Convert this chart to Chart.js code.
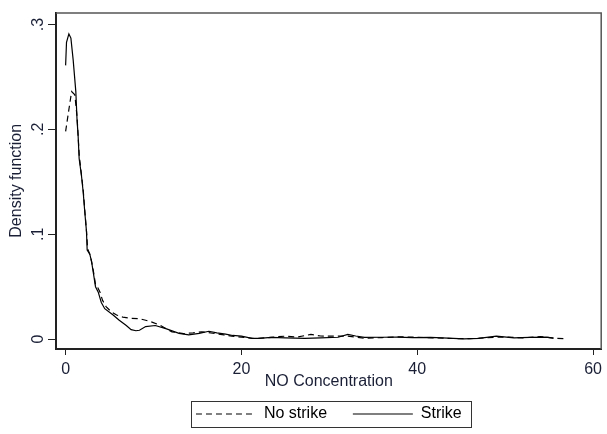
<!DOCTYPE html>
<html><head><meta charset="utf-8">
<script src="https://cdn.jsdelivr.net/npm/chart.js@4.4.1/dist/chart.umd.min.js"></script>
<style>html,body{margin:0;padding:0;background:#fff}#wrap{width:607px;height:434px}</style>
</head><body><div id="wrap"><canvas id="c" width="607" height="434"></canvas></div>
<script>
const seriesLabels = ['No strike', 'Strike'];
const xTicks = [0, 20, 40, 60];
const yTicks = [0, 0.1, 0.2, 0.3];
const xTitle = 'NO Concentration';
const yTitle = 'Density function';

const noStrikeX = [0, 0.3, 0.68, 1.05, 1.3, 1.55, 2.0, 2.4, 2.5, 2.8, 3.1, 3.4, 3.6, 3.9, 4.2, 4.6, 5.2, 5.8, 6.5, 7.25, 8.4, 9.1, 9.9, 10.8, 11.4, 12.1, 13.4, 14.5, 15.5, 17.0, 18.0, 18.9, 20.3, 21.5, 23.0, 24.9, 26.4, 27.9, 29.0, 30.2, 32.0, 34.0, 36.0, 38.0, 40.0, 42.0, 44.0, 46.0, 48.0, 50.0, 52.0, 54.0, 55.5, 57.0];
const noStrikeY = [0.198, 0.215, 0.236, 0.233, 0.212, 0.175, 0.142, 0.100, 0.086, 0.080, 0.068, 0.052, 0.050, 0.045, 0.037, 0.031, 0.026, 0.023, 0.021, 0.020, 0.0195, 0.018, 0.016, 0.013, 0.010, 0.007, 0.0053, 0.006, 0.007, 0.0053, 0.004, 0.0028, 0.0016, 0.0006, 0.0015, 0.0028, 0.002, 0.0045, 0.003, 0.0028, 0.003, 0.0008, 0.0015, 0.0022, 0.0018, 0.0012, 0.0006, 0.0004, 0.0015, 0.002, 0.0012, 0.0025, 0.001, 0.0002];

const strikeX = [0, 0.1, 0.37, 0.6, 0.86, 1.16, 1.3, 1.42, 1.54, 1.8, 2.0, 2.18, 2.37, 2.45, 2.75, 2.95, 3.1, 3.4, 3.7, 4.06, 4.45, 5.4, 6.1, 6.9, 7.45, 8.0, 8.4, 9.1, 10.2, 11.4, 12.9, 14.0, 15.2, 16.3, 17.2, 18.2, 19.0, 20.0, 21.2, 22.0, 23.4, 25.0, 27.2, 29.0, 31.0, 32.1, 33.0, 34.0, 36.0, 37.7, 39.5, 41.5, 43.5, 45.3, 47.0, 49.0, 51.0, 52.8, 54.7, 55.5];
const strikeY = [0.261, 0.283, 0.291, 0.287, 0.266, 0.236, 0.209, 0.194, 0.172, 0.156, 0.140, 0.121, 0.103, 0.085, 0.081, 0.074, 0.066, 0.050, 0.045, 0.035, 0.029, 0.023, 0.018, 0.013, 0.009, 0.008, 0.0085, 0.012, 0.013, 0.010, 0.0055, 0.004, 0.0055, 0.0075, 0.006, 0.0047, 0.0035, 0.0028, 0.0008, 0.0008, 0.0016, 0.0012, 0.0008, 0.0012, 0.0018, 0.0045, 0.003, 0.0016, 0.0018, 0.002, 0.0015, 0.0016, 0.001, 0.0002, 0.0008, 0.0028, 0.0012, 0.0016, 0.002, 0.001];

const FONT = {family: "'Liberation Sans', Arial, sans-serif", size: 16};
const TXT = '#1a1f36';

function pairs(xs, ys) { return xs.map((x, i) => ({x: x, y: ys[i]})); }

const framePlugin = {
  id: 'frame',
  afterDraw(chart) {
    const ctx = chart.ctx, a = chart.chartArea;
    ctx.save();
    ctx.strokeStyle = '#555';
    ctx.lineWidth = 1.5;
    ctx.beginPath();
    ctx.moveTo(a.left, a.top + 0.5);
    ctx.lineTo(a.right - 0.5, a.top + 0.5);
    ctx.lineTo(a.right - 0.5, a.bottom);
    ctx.stroke();
    const lg = chart.legend;
    if (lg && lg.legendHitBoxes && lg.legendHitBoxes.length) {
      const hb = lg.legendHitBoxes;
      const last = hb[hb.length - 1];
      const l = hb[0].left - 5, r = last.left + last.width + 9;
      const t = hb[0].top - 5, b = hb[0].top + hb[0].height + 5;
      ctx.strokeStyle = '#333';
      ctx.lineWidth = 1;
      ctx.strokeRect(Math.round(l) + 0.5, Math.round(t) + 0.5, Math.round(r - l), Math.round(b - t));
    }
    ctx.restore();
  }
};

new Chart(document.getElementById('c'), {
  type: 'scatter',
  data: {
    datasets: [
      {label: seriesLabels[0], data: pairs(noStrikeX, noStrikeY), showLine: true, borderColor: '#000', borderWidth: 1.2, borderDash: [6, 4], pointRadius: 0, tension: 0, fill: false},
      {label: seriesLabels[1], data: pairs(strikeX, strikeY), showLine: true, borderColor: '#000', borderWidth: 1.2, pointRadius: 0, tension: 0, fill: false}
    ]
  },
  options: {
    responsive: false,
    animation: false,
    devicePixelRatio: 1,
    layout: {padding: {left: 0, right: 1, top: 8, bottom: 2}},
    plugins: {
      tooltip: {enabled: false},
      legend: {
        position: 'bottom',
        fullSize: false,
        labels: {
          usePointStyle: true,
          pointStyle: 'line',
          pointStyleWidth: 60,
          padding: 8,
          font: FONT,
          color: TXT,
          generateLabels: (chart) => chart.data.datasets.map((d, i) => ({
            text: i === 0 ? d.label + '    ' : d.label,
            strokeStyle: '#000',
            fillStyle: '#000',
            lineWidth: 1.2,
            lineDash: d.borderDash || [],
            pointStyle: 'line',
            hidden: false,
            datasetIndex: i
          }))
        }
      }
    },
    scales: {
      x: {
        type: 'linear',
        min: -1.095,
        max: 60.98,
        afterBuildTicks: (s) => { s.ticks = xTicks.map(v => ({value: v})); },
        afterFit: (s) => { s.height = 49; },
        ticks: {font: FONT, color: TXT, padding: 5, maxRotation: 0, autoSkip: false, callback: (v) => String(v)},
        grid: {drawOnChartArea: false, drawTicks: true, tickLength: 6, tickColor: '#222', tickWidth: 1},
        border: {display: true, color: '#222', width: 2},
        title: {display: true, text: xTitle, font: FONT, color: TXT, padding: {top: 0, bottom: 7}}
      },
      y: {
        type: 'linear',
        min: -0.0094,
        max: 0.3113,
        afterBuildTicks: (s) => { s.ticks = yTicks.map(v => ({value: v})); },
        afterFit: (s) => { s.width = 56; },
        ticks: {font: FONT, color: TXT, padding: 3, minRotation: 90, maxRotation: 90, crossAlign: 'center', autoSkip: false,
          callback: (v) => v === 0 ? '0' : String(+v.toFixed(2)).replace(/^0/, '')},
        grid: {drawOnChartArea: false, drawTicks: true, tickLength: 8, tickColor: '#222', tickWidth: 1},
        border: {display: true, color: '#222', width: 2},
        title: {display: true, text: yTitle, font: FONT, color: TXT, padding: {top: 7, bottom: 0}}
      }
    }
  },
  plugins: [framePlugin]
});
</script>
</body></html>
